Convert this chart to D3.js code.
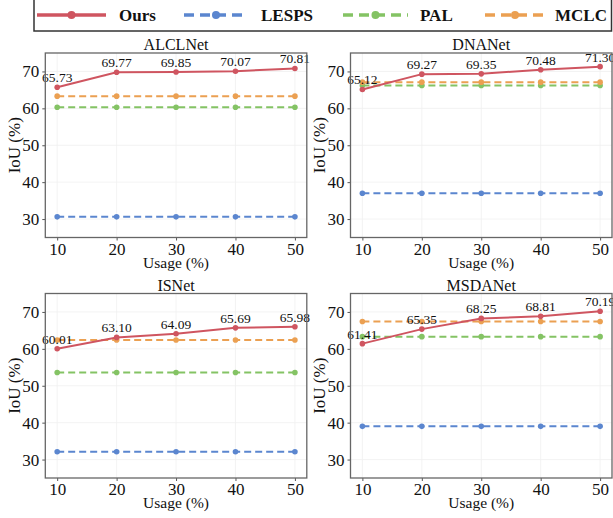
<!DOCTYPE html>
<html>
<head>
<meta charset="utf-8">
<script src="https://cdn.jsdelivr.net/npm/d3@7/dist/d3.min.js"></script>
<style>
  html, body { margin: 0; padding: 0; background: #fff; }
  svg { display: block; font-family: "Liberation Serif", "Times New Roman", serif; }
</style>
</head>
<body>
<svg id="chart" width="613" height="518"></svg>
<script>
// ---- data ----
const usage = [10, 20, 30, 40, 50];
const yTicks = [30, 40, 50, 60, 70];
const seriesNames = ["Ours", "LESPS", "PAL", "MCLC"];
const panelTitles = ["ALCLNet", "DNANet", "ISNet", "MSDANet"];

const oursALCLNet = [65.73, 69.77, 69.85, 70.07, 70.81];
const lespsALCLNet = [30.6, 30.6, 30.6, 30.6, 30.6];
const palALCLNet = [60.3, 60.3, 60.3, 60.3, 60.3];
const mclcALCLNet = [63.3, 63.3, 63.3, 63.3, 63.3];

const oursDNANet = [65.12, 69.27, 69.35, 70.48, 71.30];
const lespsDNANet = [37.0, 37.0, 37.0, 37.0, 37.0];
const palDNANet = [66.2, 66.2, 66.2, 66.2, 66.2];
const mclcDNANet = [67.1, 67.1, 67.1, 67.1, 67.1];

const oursISNet = [60.01, 63.10, 64.09, 65.69, 65.98];
const lespsISNet = [32.1, 32.1, 32.1, 32.1, 32.1];
const palISNet = [53.6, 53.6, 53.6, 53.6, 53.6];
const mclcISNet = [62.4, 62.4, 62.4, 62.4, 62.4];

const oursMSDANet = [61.41, 65.35, 68.25, 68.81, 70.19];
const lespsMSDANet = [39.0, 39.0, 39.0, 39.0, 39.0];
const palMSDANet = [63.3, 63.3, 63.3, 63.3, 63.3];
const mclcMSDANet = [67.4, 67.4, 67.4, 67.4, 67.4];

const colors = ["#cf5560", "#5b86cf", "#84c364", "#eba052"];

const panelData = [
  [oursALCLNet, lespsALCLNet, palALCLNet, mclcALCLNet],
  [oursDNANet, lespsDNANet, palDNANet, mclcDNANet],
  [oursISNet, lespsISNet, palISNet, mclcISNet],
  [oursMSDANet, lespsMSDANet, palMSDANet, mclcMSDANet]
];

// ---- layout ----
const svg = d3.select("#chart");
const panelW = 261.5, panelH = 184.5;
const lefts = [45.3, 350.5];
const tops = [53, 293.5];
const dashPat = "7,4";

panelTitles.forEach((title, i) => {
  const x0 = lefts[i % 2], y0 = tops[Math.floor(i / 2)];
  const g = svg.append("g").attr("transform", `translate(${x0},${y0})`);
  const x = d3.scaleLinear().domain([8, 52]).range([0, panelW]);
  const y = d3.scaleLinear().domain([25, 75]).range([panelH, 0]);

  // grid
  g.append("g").selectAll("line").data(usage).join("line")
    .attr("x1", d => x(d)).attr("x2", d => x(d)).attr("y1", 0).attr("y2", panelH)
    .attr("stroke", "#f0f0f0").attr("stroke-width", 0.8);
  g.append("g").selectAll("line").data(yTicks).join("line")
    .attr("x1", 0).attr("x2", panelW).attr("y1", d => y(d)).attr("y2", d => y(d))
    .attr("stroke", "#f0f0f0").attr("stroke-width", 0.8);

  // axes
  const xAxis = g.append("g").attr("transform", `translate(0,${panelH})`)
    .call(d3.axisBottom(x).tickValues(usage).tickSize(3).tickPadding(2));
  const yAxis = g.append("g")
    .call(d3.axisLeft(y).tickValues(yTicks).tickSize(3).tickPadding(3));
  [xAxis, yAxis].forEach(a => {
    a.select(".domain").remove();
    a.selectAll(".tick line").attr("stroke", "#555");
    a.selectAll("text").attr("font-size", 17).attr("fill", "#111")
      .attr("font-family", "'Liberation Serif', 'Times New Roman', serif");
  });

  // series (baselines first, Ours on top)
  const order = [1, 2, 3, 0];
  order.forEach(s => {
    const vals = panelData[i][s];
    const pts = usage.map((u, k) => [u, vals[k]]);
    g.append("path").datum(pts)
      .attr("fill", "none").attr("stroke", colors[s]).attr("stroke-width", 2)
      .attr("stroke-dasharray", s === 0 ? null : dashPat)
      .attr("d", d3.line().x(d => x(d[0])).y(d => y(d[1])));
    g.append("g").selectAll("circle").data(pts).join("circle")
      .attr("cx", d => x(d[0])).attr("cy", d => y(d[1])).attr("r", 2.8)
      .attr("fill", colors[s]);
  });

  // data labels for Ours
  g.append("g").selectAll("text").data(usage.map((u, k) => [u, panelData[i][0][k]])).join("text")
    .attr("x", d => x(d[0])).attr("y", d => y(d[1]) - 5)
    .attr("text-anchor", "middle").attr("font-size", 13.5).attr("fill", "#111")
    .text(d => d[1].toFixed(2));

  // frame
  g.append("rect").attr("width", panelW).attr("height", panelH)
    .attr("fill", "none").attr("stroke", "#666").attr("stroke-width", 1.3);

  // title
  g.append("text").attr("x", panelW / 2).attr("y", -3).attr("text-anchor", "middle")
    .attr("font-size", 16).attr("fill", "#111").text(title);

  // axis labels
  g.append("text").attr("x", panelW / 2).attr("y", panelH + 30).attr("text-anchor", "middle")
    .attr("font-size", 15.5).attr("fill", "#111").text("Usage (%)");
  g.append("text").attr("transform", `translate(-31,${panelH / 2}) rotate(-90)`)
    .attr("dy", "0.35em").attr("text-anchor", "middle")
    .attr("font-size", 17).attr("fill", "#111").text("IoU (%)");
});

// ---- legend ----
const leg = svg.append("g");
leg.append("rect").attr("x", 34).attr("y", -1).attr("width", 577.5).attr("height", 32)
  .attr("fill", "#fff").attr("stroke", "#333").attr("stroke-width", 1.5);
const legLineX = [37, 184, 343, 485];
const legLineLen = [69, 64, 65, 60];
const legTextX = [119, 261, 420, 555];
seriesNames.forEach((name, s) => {
  const lx = legLineX[s], ly = 15, len = legLineLen[s];
  leg.append("line").attr("x1", lx).attr("x2", lx + len).attr("y1", ly).attr("y2", ly)
    .attr("stroke", colors[s]).attr("stroke-width", 3.5)
    .attr("stroke-dasharray", s === 0 ? null : "10,6");
  leg.append("circle").attr("cx", lx + len / 2).attr("cy", ly).attr("r", 4).attr("fill", colors[s]);
  leg.append("text").attr("x", legTextX[s]).attr("y", ly + 6).attr("font-size", 17)
    .attr("font-weight", "bold").attr("fill", "#111").text(name);
});
</script>
</body>
</html>
